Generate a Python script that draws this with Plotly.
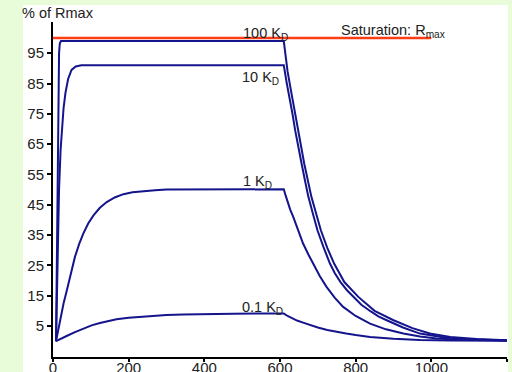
import plotly.graph_objects as go

# ---- data ----
x_ticks = [0, 200, 400, 600, 800, 1000, 1200]
x_tick_text = ["0", "200", "400", "600", "800", "1000", ""]
y_ticks = [5, 15, 25, 35, 45, 55, 65, 75, 85, 95]

# 100 KD
t_100 = [8, 10, 12, 14, 16, 18, 21, 610, 614, 620, 632, 647, 664, 683, 708, 725, 743, 770, 807, 850, 900, 950, 996, 1050, 1120, 1200]
r_100 = [0, 30, 62, 85, 95, 98.2, 99.0, 99.0, 95, 89, 80.6, 69.6, 58.6, 47.6, 36.6, 30.8, 25.6, 19.5, 14.6, 10.0, 6.9, 4.3, 2.5, 1.4, 0.7, 0.3]

# 10 KD
t_10 = [8, 12, 16, 20, 24, 28, 33, 40, 49, 60, 75, 610, 618, 625, 633, 640, 648, 657, 666, 675, 687, 699, 715, 732, 745, 760, 777, 794, 815, 840, 860, 882, 925, 970, 1030, 1100, 1200]
r_10 = [0, 30, 50, 63, 71, 77, 82, 86.5, 89.5, 90.6, 91.0, 91.0, 85, 80.6, 75, 69.6, 64, 58.6, 53, 47.6, 42, 36.6, 31, 25.6, 22.4, 19.5, 16.8, 14.6, 12.0, 9.8, 8.2, 6.9, 4.5, 2.5, 1.3, 0.6, 0.25]

# 1 KD
t_1 = [8, 15, 20, 28, 36, 47, 58, 69, 80, 93, 107, 124, 142, 163, 186, 210, 239, 270, 300, 400, 500, 610,
       615, 620, 627, 635, 648, 661, 675, 688, 705, 723, 745, 767, 800, 838, 880, 926, 970, 1014, 1080, 1200]
r_1 = [0, 4.5, 8, 12.5, 16.5, 22.5, 27.8, 32, 35.5, 38.8, 41.5, 44, 45.9, 47.4, 48.5, 49.1, 49.5, 49.8, 50, 50.1, 50.1, 50.1,
       48, 46, 43.4, 41, 36.5, 32.2, 28.6, 25.6, 21.5, 17.9, 14.3, 11.3, 8.3, 5.8, 3.9, 2.5, 1.5, 0.9, 0.5, 0.2]

# 0.1 KD
t_01 = [8, 20, 36, 58, 80, 102, 124, 146, 168, 200, 256, 300, 344, 400, 477, 550, 610,
        620, 630, 645, 661, 680, 700, 725, 750, 775, 800, 838, 900, 970, 1050, 1200]
r_01 = [0, 0.8, 1.7, 3.0, 4.1, 5.2, 6.0, 6.7, 7.2, 7.7, 8.3, 8.6, 8.8, 8.95, 9.05, 9.1, 9.1,
        8.3, 7.6, 6.8, 6.1, 5.3, 4.5, 3.7, 3.0, 2.5, 2.0, 1.4, 0.8, 0.4, 0.2, 0.1]

# saturation line
t_sat = [0, 1000]
r_sat = [100, 100]

labels = ["100 K<sub>D</sub>", "10 K<sub>D</sub>", "1 K<sub>D</sub>", "0.1 K<sub>D</sub>"]
label_t = [497, 495, 497, 494]
label_r = [101.2, 86.7, 52.4, 11.0]
sat_label = "Saturation: R<sub>max</sub>"
y_title = "% of Rmax"

# ---- styling ----
BLUE = "#14148c"
RED = "#ff3c14"
GREEN_BG = "#e8fcd9"
FONT = "Liberation Sans, Arial, sans-serif"
TXT = "#222222"

fig = go.Figure()
fig.add_trace(go.Scatter(x=t_sat, y=r_sat, mode="lines", line=dict(color=RED, width=2.5), hoverinfo="skip"))
for t, r in [(t_100, r_100), (t_10, r_10), (t_1, r_1), (t_01, r_01)]:
    fig.add_trace(go.Scatter(x=t, y=r, mode="lines", line=dict(color=BLUE, width=2), hoverinfo="skip"))

for txt, tx, ty in zip(labels, label_t, label_r):
    fig.add_annotation(x=tx, y=ty, text=txt, showarrow=False, xanchor="left", yanchor="middle",
                       font=dict(family=FONT, size=14.5, color=TXT))
fig.add_annotation(x=755, y=102.4, text=sat_label, showarrow=False, xanchor="left", yanchor="middle",
                   font=dict(family=FONT, size=14.5, color=TXT))
fig.add_annotation(xref="paper", yref="paper", x=-0.073, y=1.028, text=y_title, showarrow=False,
                   xanchor="left", yanchor="middle", font=dict(family=FONT, size=14.5, color=TXT))

# white panel behind the chart
fig.add_shape(type="rect", xref="paper", yref="paper", x0=-0.0661, x1=1.0022, y0=-0.2, y1=1.0507,
              fillcolor="white", line=dict(width=0), layer="below")

fig.update_layout(
    width=512, height=372,
    margin=dict(l=53, r=5, t=22, b=15, autoexpand=False),
    paper_bgcolor=GREEN_BG, plot_bgcolor="white",
    showlegend=False,
    font=dict(family=FONT, size=15, color=TXT),
)
fig.update_xaxes(range=[0, 1200], tickvals=x_ticks, ticktext=x_tick_text, ticks="outside", ticklen=3,
                 tickwidth=1.5, tickcolor="black", showline=True, linecolor="black", linewidth=2,
                 showgrid=False, zeroline=False, automargin=False, ticklabelstandoff=-7,
                 tickfont=dict(family=FONT, size=15, color=TXT))
fig.update_yaxes(range=[-5.23, 105.3], tickvals=y_ticks, ticks="outside", ticklen=4,
                 tickwidth=1.5, tickcolor="black", showline=True, linecolor="black", linewidth=2,
                 showgrid=False, zeroline=False, automargin=False,
                 tickfont=dict(family=FONT, size=15, color=TXT))

fig.write_html("out.html", config={"displayModeBar": False},
               post_script="document.body.style.margin='0';document.body.style.overflow='hidden';")
